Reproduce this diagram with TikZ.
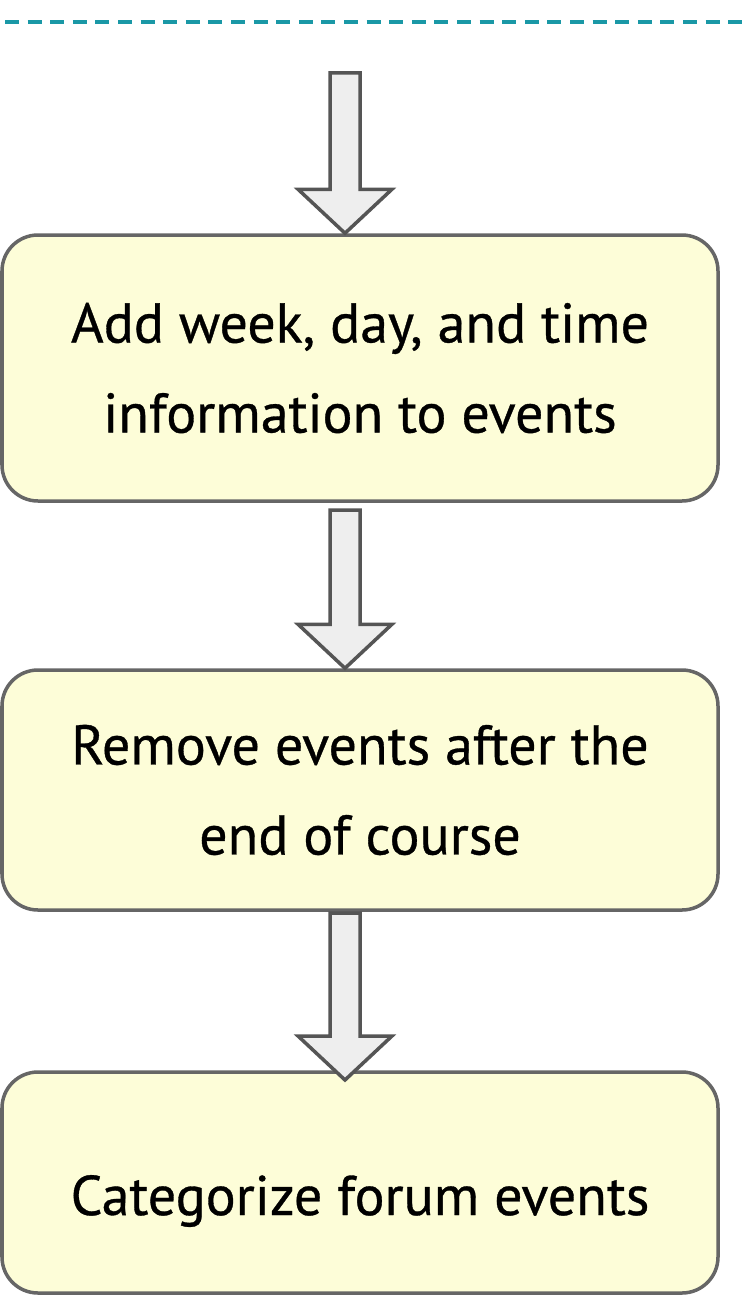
\documentclass[tikz,border=0pt]{standalone}
\usepackage{fontspec}
\setmainfont{PT Sans}[BoldFont=PT Sans, BoldFeatures={FakeBold=0.6}]
\definecolor{boxfill}{HTML}{FDFDD8}
\definecolor{boxline}{HTML}{666666}
\definecolor{arrfill}{HTML}{EEEEEE}
\definecolor{arrline}{HTML}{555555}
\definecolor{teal}{HTML}{1A98A6}
\tikzset{
  stepbox/.style={draw=boxline, fill=boxfill, line width=3.5pt, rounded corners=36pt,
    minimum width=716pt, inner sep=0pt, align=center,
    font=\fontsize{56}{90}\selectfont\bfseries},
  blockarr/.style={draw=arrline, fill=arrfill, line width=3.5pt, line join=miter},
  sepline/.style={draw=teal, line width=4pt, dash pattern=on 14pt off 8.6pt},
}
\newcommand{\blockarrow}[2]{%
  \path[blockarr] let \p1=(#1), \p2=(#2) in
    (\x1-15pt,\y1) -- (\x1+15pt,\y1) -- (\x1+15pt,\y2+44pt) -- (\x1+47pt,\y2+44pt)
    -- (\x1,\y2) -- (\x1-47pt,\y2+44pt) -- (\x1-15pt,\y2+44pt) -- cycle;}
\usetikzlibrary{calc}
\begin{document}
\begin{tikzpicture}[x=1pt,y=-1pt]
\useasboundingbox (0,0) rectangle (746,1295);
\coordinate (dl) at (5,22);
\coordinate (dr) at (746,22);
\draw[sepline] (dl) -- (dr);
\node[stepbox, minimum height=266pt] (b1) at (360,368) {Add week, day, and time\\information to events};
\node[stepbox, minimum height=240pt] (b2) at (360,790) {Remove events after the\\end of course};
\node[stepbox, minimum height=221pt, text height=80pt, text depth=15pt] (b3) at (360,1182.5) {Categorize forum events};
\coordinate (a0) at (345,73);
\coordinate (a1s) at (345,510);
\coordinate (a2s) at (345,913);
\coordinate (a3t) at (345,1080);
\blockarrow{a0}{b1.north}
\blockarrow{a1s}{b2.north}
\blockarrow{a2s}{a3t}
\end{tikzpicture}
\end{document}
